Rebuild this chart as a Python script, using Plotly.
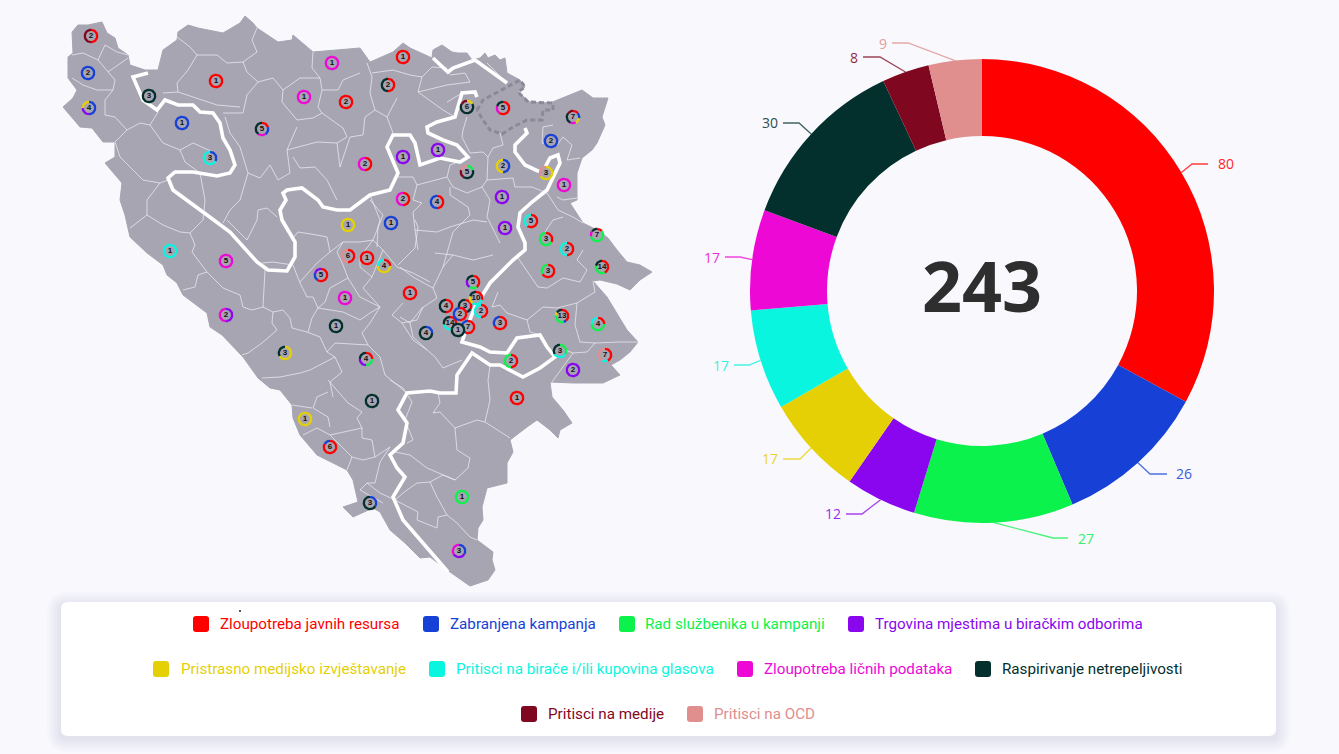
import math
import plotly.graph_objects as go

# ---------- chart data ----------
CATEGORIES = ["Zloupotreba javnih resursa", "Zabranjena kampanja", "Rad službenika u kampanji",
              "Trgovina mjestima u biračkim odborima", "Pristrasno medijsko izvještavanje",
              "Pritisci na birače i/ili kupovina glasova", "Zloupotreba ličnih podataka",
              "Raspirivanje netrepeljivosti", "Pritisci na medije", "Pritisci na OCD"]
VALUES = [80, 26, 27, 12, 17, 17, 17, 30, 8, 9]
COLORS = ["#ff0000", "#1640d6", "#0cf24c", "#8a06ee", "#e5d006", "#0af5e0", "#ed08d6", "#03302c", "#7f071f", "#e08e8e"]
R, B, G, P, Y, C, M, D, W, K = range(10)

# map sites: x, y, segments (category, count) clockwise from 12 o'clock
SITES = [
 (91,36,[(R,1),(W,1)]), (88,73,[(B,2)]), (89,108,[(B,2),(P,1),(Y,1)]), (149,96,[(D,3)]),
 (182,123,[(B,1)]), (216,81,[(R,1)]), (210,158,[(B,1),(C,2)]), (262,129,[(R,1),(B,1),(M,1),(D,2)]),
 (304,97,[(M,1)]), (332,63,[(M,1)]), (346,102,[(R,2)]), (403,57,[(R,1)]), (388,85,[(R,1),(D,1)]),
 (365,164,[(R,1),(M,1)]), (403,157,[(P,1)]), (438,150,[(P,1)]), (467,107,[(Y,1),(D,4),(W,1)]),
 (503,108,[(R,3),(M,1),(D,1)]), (573,117,[(R,1),(B,1),(Y,1),(M,1),(D,2),(W,1)]), (551,141,[(B,2)]),
 (503,166,[(B,1),(Y,1)]), (467,172,[(G,1),(D,2),(W,1),(K,1)]), (546,173,[(Y,2),(K,1)]), (564,185,[(M,1)]),
 (403,199,[(R,1),(M,1)]), (437,202,[(R,2),(B,2)]), (502,197,[(P,1)]), (505,228,[(P,1)]), (391,223,[(B,1)]),
 (348,225,[(Y,1)]), (531,221,[(R,3),(C,2)]), (546,239,[(R,1),(G,2)]), (567,249,[(R,1),(C,1)]),
 (597,235,[(R,1),(G,4),(M,1),(D,1)]), (548,271,[(R,2),(G,1)]), (602,267,[(R,6),(G,5),(D,3)]),
 (473,282,[(R,2),(G,1),(P,1),(D,1)]), (410,293,[(R,1)]), (446,306,[(R,2),(D,2)]),
 (465,306,[(R,1),(D,2)]), (476,298,[(R,3),(C,3),(Y,2),(D,2)]), (481,311,[(R,1),(C,1)]),
 (500,323,[(R,2),(B,1)]), (450,323,[(R,5),(C,5),(D,4)]), (468,327,[(R,4),(B,3)]), (460,314,[(R,1),(B,1)]),
 (458,330,[(D,1)]), (426,333,[(B,1),(D,3)]), (562,316,[(R,5),(B,1),(G,4),(Y,1),(D,2)]),
 (598,324,[(R,1),(G,2),(C,1)]), (560,351,[(G,1),(C,1),(D,1)]), (605,355,[(R,3),(C,1),(K,3)]),
 (511,361,[(R,1),(G,1)]), (573,370,[(P,2)]), (366,359,[(R,1),(G,1),(P,1),(D,1)]), (336,326,[(D,1)]),
 (345,298,[(M,1)]), (321,275,[(R,3),(B,1),(P,1)]), (348,256,[(R,3),(K,3)]), (367,258,[(R,1)]),
 (384,266,[(R,1),(Y,2),(C,1)]), (170,251,[(C,1)]), (226,261,[(M,5)]), (226,315,[(P,1),(M,1)]),
 (285,353,[(Y,2),(D,1)]), (372,401,[(D,1)]), (305,419,[(Y,1)]), (330,447,[(R,5),(B,1)]), (517,398,[(R,1)]),
 (462,497,[(G,1)]), (370,503,[(B,1),(D,2)]), (459,551,[(B,1),(P,1),(M,1)]),
]

# map geometry
OUTLINE = [(72,32),(78,25),(88,25),(102,22),(107,33),(115,38),(118,48),(128,55),(130,65),(145,70),(158,70),(163,50),
 (177,40),(178,32),(188,25),(198,28),(223,33),(240,23),(245,16),(253,23),(257,28),(278,42),(292,40),(293,35),(313,52),
 (337,50),(353,48),(360,48),(370,62),(393,52),(403,43),(410,48),(432,58),(433,50),(442,45),(452,52),(458,53),(467,53),
 (472,60),(480,58),(485,53),(488,58),(495,55),(500,60),(505,58),(507,73),(520,80),(525,87),(518,92),(530,102),(550,103),
 (563,98),(582,90),(593,98),(608,98),(602,117),(605,125),(597,143),(592,150),(582,158),(577,173),(577,200),(570,203),
 (583,223),(597,230),(608,238),(617,250),(627,262),(640,265),(652,272),(640,280),(630,290),(617,284),(600,280),(593,281),
 (607,297),(617,313),(627,330),(638,342),(630,352),(620,360),(611,365),(620,375),(603,383),(573,383),(550,382),(552,397),
 (563,410),(572,423),(560,430),(558,438),(550,430),(537,420),(527,427),(510,440),(513,452),(507,463),(507,483),(487,488),
 (482,507),(483,520),(478,528),(477,540),(493,552),(492,560),(495,570),(488,580),(470,586),(450,572),(430,557),(420,558),
 (405,543),(390,530),(380,512),(373,508),(353,517),(343,507),(358,502),(353,480),(347,470),(317,455),(300,435),(293,418),
 (292,405),(280,390),(270,388),(258,378),(243,357),(222,335),(210,327),(207,313),(183,295),(177,283),(167,275),(163,265),
 (147,253),(130,237),(125,215),(120,200),(122,183),(105,163),(115,157),(115,142),(103,142),(92,128),(80,127),(63,107),
 (73,98),(77,90),(70,80),(68,78),(68,57),(73,53)]

THICK = [
 [(148,73),(133,77),(143,100),(157,110),(165,100),(178,105),(193,105),(200,112),(213,113),(220,123),(223,138),(230,150),
  (235,165),(230,173),(217,176),(193,172),(175,172),(168,178),(173,190),(190,203),(207,215),(230,232),(237,240),(257,262),
  (268,270),(287,271),(295,257),(295,242),(282,220),(280,210),(286,200),(283,193),(287,190),(302,188),(318,200),(323,207),
  (337,210),(350,210),(370,195),(390,190),(398,173),(387,147),(393,135),(410,135),(415,143),(420,165),(440,158),(460,162),
  (468,157),(457,145),(443,140),(428,133),(427,127),(437,122),(455,117),(462,93),(475,92),(477,97)],
 [(433,58),(448,72),(453,68),(475,60),(507,83)],
 [(525,128),(527,133),(515,145),(515,152),(525,165),(542,173),(550,158),(558,155),(560,163),(553,177),(547,190),(532,202),
  (520,213),(518,227),(525,243),(525,250),(513,260),(490,283),(475,307),(467,327),(462,342),(480,347),(490,352),(507,353),
  (517,338),(540,335),(547,347),(555,357),(540,368),(523,377),(500,365),(490,365),(472,353),(457,375),(456,393),(440,393),
  (430,391),(407,393),(398,410),(407,423),(403,443),(390,455),(397,468),(405,477),(393,497),(403,520),(423,543),(448,572)],
]

BRCKO = [(477,110),(483,100),(507,87),(520,80),(525,87),(518,92),(528,102),(553,103),(553,110),(543,110),(542,120),(527,120),
 (513,127),(502,134),(490,130),(483,120),(477,110)]

THIN = [
 [(72,55),(83,53),(98,60),(105,45),(117,52),(128,55)],
 [(98,60),(108,72),(115,80),(113,90),(97,90),(83,85),(72,78)],
 [(108,72),(128,58)],
 [(113,90),(105,100),(105,115),(115,117),(127,130),(115,142),(120,157),(143,180),(160,183),(168,180)],
 [(127,130),(140,123),(150,125),(158,112)],
 [(150,125),(163,143),(180,150),(193,143),(213,152)],
 [(180,150),(185,162),(200,173)],
 [(163,93),(178,92),(177,83),(188,70),(197,55),(190,47),(177,37)],
 [(197,55),(217,55),(227,63),(243,62),(257,52),(252,40),(257,28)],
 [(243,62),(247,72),(258,82),(247,95),(243,113),(223,113)],
 [(178,92),(193,97),(217,105),(240,107)],
 [(258,82),(273,78),(283,90),(282,102),(297,120),(313,118),(322,113),(343,128),(347,137),(337,143),(340,167),(350,137),(363,135),(365,117),(375,110),(370,93),(372,77),(367,63)],
 [(225,117),(230,133),(240,147),(248,173),(260,178),(270,165),(278,180),(290,173),(287,150),(297,127)],
 [(283,90),(300,78),(320,78),(312,68),(313,52)],
 [(320,78),(322,90),(338,90),(343,80),(360,73)],
 [(322,90),(318,107),(322,113)],
 [(287,150),(317,142),(337,143)],
 [(293,157),(300,168),(315,167),(327,180),(337,200)],
 [(372,73),(393,70),(410,75),(422,77),(432,67),(447,68)],
 [(422,77),(418,92),(443,110),(455,117)],
 [(397,98),(387,117),(393,133)],
 [(375,110),(387,117)],
 [(418,92),(447,85),(470,82),(465,73),(450,75)],
 [(447,102),(462,93)],
 [(487,63),(507,83)],
 [(467,117),(463,130),(462,137),(470,153),(483,152),(488,157),(493,148),(503,145),(500,133)],
 [(488,157),(487,180),(482,187),(490,200),(487,217),(500,243)],
 [(468,158),(450,165),(447,177),(417,185),(413,177),(398,177)],
 [(447,177),(453,187),(467,193),(482,187)],
 [(417,185),(413,200),(422,203),(413,212),(415,230),(437,232),(450,227),(473,220),(487,222)],
 [(450,187),(450,195),(468,207),(470,215),(453,232),(450,243),(443,267)],
 [(370,195),(380,220),(378,227),(377,247)],
 [(415,230),(418,250)],
 [(513,178),(515,187),(532,187),(547,193)],
 [(487,180),(513,178)],
 [(543,127),(542,143),(557,145),(563,137),(572,145),(567,160),(580,158)],
 [(553,125),(543,127)],
 [(557,197),(563,200),(577,198)],
 [(547,193),(558,210),(573,217),(583,223)],
 [(563,217),(553,220),(545,232)],
 [(518,258),(528,273),(538,287),(547,288),(563,278),(580,282),(587,270),(577,260),(583,250)],
 [(498,292),(492,307),(500,305),(507,313),(527,320),(543,307),(557,308),(577,303),(595,292),(593,281)],
 [(527,320),(530,332),(540,335)],
 [(577,303),(575,325),(580,342),(595,343),(620,342),(638,342)],
 [(557,347),(573,353),(587,352),(595,343)],
 [(573,353),(568,360),(560,372),(552,382)],
 [(400,267),(413,277),(433,288),(443,267),(453,255),(435,253)],
 [(453,255),(473,260),(493,255)],
 [(433,288),(437,298),(422,308),(410,323),(413,337),(435,357),(443,368),(462,360)],
 [(400,317),(410,323)],
 [(130,228),(137,223),(147,215),(163,225),(180,232),(190,233),(195,245),(192,252),(207,272),(198,275),(195,287),(183,290)],
 [(147,215),(147,200),(160,183)],
 [(190,233),(203,220),(205,200),(200,173)],
 [(207,272),(223,288),(240,295),(243,307),(252,310),(263,307),(265,270)],
 [(263,307),(273,312),(272,323),(277,330),(262,343),(248,353),(242,355)],
 [(273,312),(283,310),(290,318),(292,328),(307,332),(320,337),(327,352),(335,357),(310,370),(300,373),(280,377),(262,378)],
 [(223,223),(230,210),(240,200),(248,173)],
 [(227,220),(247,240),(257,220),(258,210),(267,208),(277,217)],
 [(262,263),(273,262),(293,265),(300,283),(307,297),(313,297),(318,308),(312,318),(308,332)],
 [(318,308),(343,312),(360,320),(370,313),(380,307),(360,297),(348,278),(330,288),(325,302),(318,308)],
 [(300,282),(317,263),(330,252),(327,237),(317,235),(298,232),(293,238)],
 [(330,252),(343,242),(360,242),(373,240),(383,250),(397,267),(413,273),(430,282)],
 [(343,242),(337,252),(343,265),(348,278)],
 [(373,240),(360,257),(360,267),(372,277),(363,288),(380,307)],
 [(383,250),(372,277)],
 [(373,240),(383,215),(370,200)],
 [(415,220),(418,227),(415,248),(398,265)],
 [(380,307),(370,323),(362,333),(368,345),(335,343),(327,352)],
 [(368,345),(380,357),(385,375),(397,385),(407,393)],
 [(403,303),(392,315),(402,323),(413,340),(427,350)],
 [(423,307),(417,320),(402,323)],
 [(335,357),(338,363),(342,372),(330,382),(333,397)],
 [(328,380),(348,403),(362,412),(357,418),(362,428),(345,432),(330,435),(317,428),(303,435)],
 [(362,428),(362,438),(372,440),(375,457),(363,460),(352,457),(347,470)],
 [(330,435),(352,457)],
 [(313,408),(328,417),(330,427)],
 [(313,408),(317,397),(328,392)],
 [(292,405),(312,408)],
 [(390,380),(403,388),(412,402),(405,420),(413,440),(407,443)],
 [(375,457),(390,447),(380,462),(375,483),(367,483),(380,493),(395,500),(418,512),(417,520),(437,528),(438,517),(447,515),(437,497),(430,482),(443,475),(455,480),(468,468),(470,458),(457,450),(455,428),(440,412),(433,413),(440,403),(438,393)],
 [(455,428),(470,422),(477,420),(485,422),(490,400),(488,380),(490,366)],
 [(485,422),(510,438)],
 [(430,482),(417,483),(403,493),(395,500)],
 [(395,452),(410,455),(427,468),(455,480)],
 [(447,515),(457,523),(470,537),(477,540)],
 [(367,483),(360,490),(383,503)],
]

# callouts of the ring: bend and end of each leader, label centre
LEADER_BEND = [(1192,164),(1150,474),(1053,538),(862,514),(800,459),(749,365),(740,257),(799,123),(880,57),(908,43)]
LEADER_END = [(1208,164),(1167,474),(1068,538),(846,514),(783,459),(734,365),(725,257),(783,123),(863,57),(892,43)]
LEADER_TEXT = [(1226,163),(1184,473),(1086,538),(833,513),(770,458),(721,365),(712,257),(770,122),(854,57),(883,43)]

# legend rows: swatch left, y, text left
LEGEND_SWATCH_X = [193, 423, 619, 848, 153, 429, 737, 975, 521, 687]
LEGEND_TEXT_X = [218, 448, 643, 873, 179, 454, 762, 1000, 546, 712]
LEGEND_Y = [624, 624, 624, 624, 669, 669, 669, 669, 714, 714]

BG = "#f8f8fd"
MAP_FILL = "#a8a5b3"
CX, CY, RO, RI = 982, 291, 232, 155
W_PX, H_PX = 1339, 754
RING_R, RING_W = 6.2, 2.3

fig = go.Figure()

def xs(pts): return [p[0] for p in pts]
def ys(pts): return [p[1] for p in pts]
def line(pts, color, width, dash="solid", opacity=1.0):
    fig.add_trace(go.Scatter(x=xs(pts), y=ys(pts), mode="lines", hoverinfo="skip", showlegend=False, opacity=opacity,
                             line=dict(color=color, width=width, dash=dash, shape="linear")))

# map
ring = OUTLINE + OUTLINE[:1]
fig.add_trace(go.Scatter(x=xs(ring), y=ys(ring), mode="lines", fill="toself", fillcolor=MAP_FILL, hoverinfo="skip",
                         showlegend=False, line=dict(color=MAP_FILL, width=1)))
thin_x, thin_y = [], []
for seg in THIN:
    thin_x += xs(seg) + [None]
    thin_y += ys(seg) + [None]
fig.add_trace(go.Scatter(x=thin_x, y=thin_y, mode="lines", hoverinfo="skip", showlegend=False,
                         line=dict(color="rgba(240,240,246,0.7)", width=1)))
for seg in THICK:
    line(seg, "#ffffff", 3.6)
line(BRCKO, "#8b8995", 3, dash="5px,3px")

# site rings
for sx, sy, segs in SITES:
    total = sum(c for _, c in segs)
    fig.add_trace(go.Scatter(x=[sx], y=[sy], mode="markers", hoverinfo="skip", showlegend=False,
                             marker=dict(size=12, color=MAP_FILL, line=dict(width=0))))
    start = 0.0
    for cat, count in segs:
        n = max(3, int(40 * count / total))
        a = [start + (count / total) * i / n for i in range(n + 1)]
        fig.add_trace(go.Scatter(
            x=[sx + RING_R * math.sin(2 * math.pi * t) for t in a],
            y=[sy - RING_R * math.cos(2 * math.pi * t) for t in a],
            mode="lines", hoverinfo="skip", showlegend=False,
            line=dict(color=COLORS[cat], width=RING_W)))
        start += count / total
    fig.add_trace(go.Scatter(x=[sx], y=[sy], mode="text", text=[str(total)], hoverinfo="skip", showlegend=False,
                             textfont=dict(family="Liberation Sans", size=8, color="#111111", weight="bold"),
                             textposition="middle center"))

# donut
fig.add_trace(go.Pie(values=VALUES, labels=CATEGORIES, hole=RI / RO, sort=False, direction="clockwise", rotation=0,
                     marker=dict(colors=COLORS, line=dict(width=0)), textinfo="none", hoverinfo="skip", showlegend=False,
                     domain=dict(x=[(CX - RO) / W_PX, (CX + RO) / W_PX],
                                 y=[1 - (CY + RO) / H_PX, 1 - (CY - RO) / H_PX])))

# leaders
total_all = sum(VALUES)
acc = 0
annotations = []
for v, col, bend, end, t in zip(VALUES, COLORS, LEADER_BEND, LEADER_END, LEADER_TEXT):
    mid = (acc + v / 2) / total_all * 2 * math.pi
    acc += v
    start_pt = (CX + RO * math.sin(mid), CY - RO * math.cos(mid))
    line([start_pt, bend, end], col, 1.3, opacity=0.75)
    annotations.append(dict(x=t[0], y=t[1], xref="x", yref="y", text=str(v), showarrow=False, xanchor="center",
                            yanchor="middle", font=dict(family="Open Sans", size=14, color=col), opacity=0.85))

annotations.append(dict(x=CX, y=285, xref="x", yref="y", text="<b>%d</b>" % total_all, showarrow=False, xanchor="center",
                        yanchor="middle", font=dict(family="Open Sans", size=70, color="#2e2e2e")))

def rrect(x0, y0, x1, y1, r):
    return (f"M{x0+r},{y0} L{x1-r},{y0} Q{x1},{y0} {x1},{y0+r} L{x1},{y1-r} Q{x1},{y1} {x1-r},{y1} "
            f"L{x0+r},{y1} Q{x0},{y1} {x0},{y1-r} L{x0},{y0+r} Q{x0},{y0} {x0+r},{y0} Z")

shapes = []
# soft panel shadow
for grow in range(14, 0, -2):
    shapes.append(dict(type="path", path=rrect(61 - grow, 604 - grow + 2, 1276 + grow, 736 + grow + 2, 6 + grow), xref="x", yref="y",
                       fillcolor="rgba(90,85,160,0.018)", line=dict(width=0), layer="below"))
shapes.append(dict(type="path", path=rrect(61, 602, 1276, 736, 7), xref="x", yref="y", fillcolor="#ffffff",
                   line=dict(width=0), layer="below"))
# legend keys
for name, col, sx, tx, ly in zip(CATEGORIES, COLORS, LEGEND_SWATCH_X, LEGEND_TEXT_X, LEGEND_Y):
    shapes.append(dict(type="path", path=rrect(sx, ly - 8, sx + 16, ly + 8, 3), xref="x", yref="y", fillcolor=col,
                       line=dict(width=0), layer="above"))
    annotations.append(dict(x=tx, y=ly, xref="x", yref="y", text=name, showarrow=False, xanchor="left", yanchor="middle",
                            font=dict(family="Roboto", size=15.2, color=col)))

fig.add_trace(go.Scatter(x=[240], y=[611], mode="markers", hoverinfo="skip", showlegend=False,
                         marker=dict(size=2, color="#222222")))

fig.update_layout(width=W_PX, height=H_PX, margin=dict(l=0, r=0, t=0, b=0), paper_bgcolor=BG, plot_bgcolor=BG,
                  showlegend=False, shapes=shapes, annotations=annotations,
                  xaxis=dict(range=[0, W_PX], visible=False, fixedrange=True),
                  yaxis=dict(range=[H_PX, 0], visible=False, fixedrange=True))

fig.write_html("out.html", config=dict(displayModeBar=False),
               post_script="document.body.style.margin='0';document.body.style.background='%s';document.body.style.overflow='hidden';" % BG)
